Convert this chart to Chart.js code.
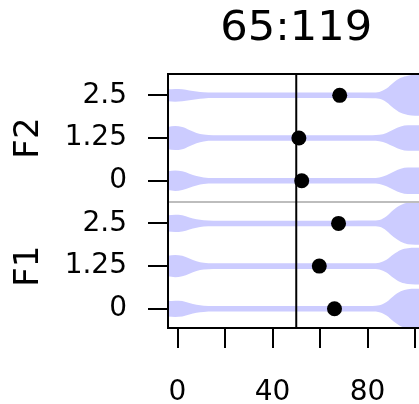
<!DOCTYPE html>
<html>
<head>
<meta charset="utf-8">
<script src="https://cdn.jsdelivr.net/npm/chart.js@4.4.1/dist/chart.umd.min.js"></script>
<style>
  html, body { margin: 0; padding: 0; overflow: hidden; background: #fff; }
  #wrap { width: 443px; height: 404px; }
</style>
</head>
<body>
<div id="wrap"><canvas id="c" width="443" height="404"></canvas></div>
<script>
// Panel title and row / group labels (rows listed bottom to top)
const panelTitle = '65:119';
const rowLabels = ['0', '1.25', '2.5', '0', '1.25', '2.5'];
const groupLabels = ['F1', 'F2'];
const groupCenters = [2, 5];
const separatorAt = 3.5;

// Horizontal axis
const xTicks = [0, 20, 40, 60, 80, 100];
const xTickLabels = ['0', '', '40', '', '80', ''];
const refLine = 50;

// Point estimates per row (bottom to top)
const pointValues = [66.1, 59.7, 67.8, 52.3, 51.1, 68.3];

// Violin density half-widths (row units) sampled along x
const densX = [-4, -1, 2, 5, 8, 11, 15, 30, 50, 70, 82, 85, 88, 91, 94, 97, 100, 104];
const violinF1_0    = [0.18, 0.19, 0.18, 0.135, 0.095, 0.074, 0.065, 0.065, 0.065, 0.065, 0.066, 0.08, 0.16, 0.30, 0.41, 0.46, 0.47, 0.47];
const violinF1_125  = [0.24, 0.26, 0.24, 0.18, 0.115, 0.08, 0.066, 0.065, 0.065, 0.065, 0.066, 0.08, 0.15, 0.28, 0.38, 0.42, 0.43, 0.43];
const violinF1_25   = [0.19, 0.20, 0.19, 0.14, 0.10, 0.075, 0.065, 0.065, 0.065, 0.065, 0.066, 0.08, 0.17, 0.32, 0.43, 0.49, 0.50, 0.50];
const violinF2_0    = [0.22, 0.24, 0.22, 0.165, 0.11, 0.078, 0.066, 0.065, 0.065, 0.065, 0.066, 0.078, 0.13, 0.21, 0.28, 0.31, 0.31, 0.31];
const violinF2_125  = [0.26, 0.28, 0.26, 0.19, 0.12, 0.08, 0.066, 0.065, 0.065, 0.065, 0.066, 0.075, 0.12, 0.20, 0.27, 0.30, 0.30, 0.30];
const violinF2_25   = [0.14, 0.15, 0.14, 0.115, 0.09, 0.072, 0.065, 0.065, 0.065, 0.065, 0.066, 0.08, 0.16, 0.30, 0.41, 0.46, 0.48, 0.48];
const violins = [violinF1_0, violinF1_125, violinF1_25, violinF2_0, violinF2_125, violinF2_25];

const X_MIN = -4, X_MAX = 104, Y_MIN = 0.55, Y_MAX = 6.5;
const violinColor = '#ccccff';

const datasets = [];

// dots on top
datasets.push({
  data: pointValues.map((v, i) => ({ x: v, y: i + 1 })),
  showLine: false,
  pointRadius: 7.5,
  pointBackgroundColor: '#000',
  pointBorderWidth: 0,
  order: 0
});

// reference line
datasets.push({
  data: [{ x: refLine, y: Y_MIN }, { x: refLine, y: Y_MAX }],
  borderColor: '#000',
  borderWidth: 2,
  pointRadius: 0,
  order: 1
});

// group separator
datasets.push({
  data: [{ x: X_MIN, y: separatorAt }, { x: X_MAX, y: separatorAt }],
  borderColor: '#bdbdbd',
  borderWidth: 2,
  pointRadius: 0,
  order: 2
});

// violins: lower edge then upper edge filled to the lower one
violins.forEach((w, i) => {
  const row = i + 1;
  datasets.push({
    data: densX.map((x, j) => ({ x, y: row - w[j] })),
    borderWidth: 0,
    borderColor: 'rgba(0,0,0,0)',
    pointRadius: 0,
    fill: false,
    cubicInterpolationMode: 'monotone',
    order: 3
  });
  datasets.push({
    data: densX.map((x, j) => ({ x, y: row + w[j] })),
    borderWidth: 0,
    borderColor: 'rgba(0,0,0,0)',
    backgroundColor: violinColor,
    pointRadius: 0,
    fill: '-1',
    cubicInterpolationMode: 'monotone',
    order: 3
  });
});

const decor = {
  id: 'decor',
  afterDatasetsDraw(chart) {
    const { ctx, chartArea: a } = chart;
    ctx.save();
    ctx.strokeStyle = '#000';
    ctx.lineWidth = 2;
    ctx.strokeRect(a.left, a.top, a.right - a.left, a.bottom - a.top);
    ctx.restore();
  },
  afterDraw(chart) {
    const { ctx, chartArea: a } = chart;
    const yScale = chart.scales.y;
    ctx.save();
    ctx.fillStyle = '#000';
    // title
    ctx.font = '40px "DejaVu Sans"';
    ctx.textAlign = 'center';
    ctx.textBaseline = 'alphabetic';
    ctx.save();
    ctx.translate((a.left + a.right) / 2, 40);
    ctx.scale(1.08, 1);
    ctx.fillText(panelTitle, 0, 0);
    ctx.restore();
    // group labels
    ctx.font = '34px "DejaVu Sans"';
    ctx.textBaseline = 'middle';
    groupLabels.forEach((g, i) => {
      const y = yScale.getPixelForValue(groupCenters[i]);
      ctx.save();
      ctx.translate(29, y);
      ctx.rotate(-Math.PI / 2);
      ctx.fillText(g, 0, 0);
      ctx.restore();
    });
    ctx.restore();
  }
};

new Chart(document.getElementById('c'), {
  type: 'line',
  data: { datasets },
  plugins: [decor],
  options: {
    responsive: false,
    animation: false,
    layout: { autoPadding: false, padding: { top: 74, left: 0, right: 0, bottom: 0 } },
    plugins: { legend: { display: false }, tooltip: { enabled: false } },
    scales: {
      x: {
        type: 'linear',
        min: X_MIN,
        max: X_MAX,
        afterBuildTicks: (s) => { s.ticks = xTicks.map(v => ({ value: v })); },
        afterFit: (s) => { s.height = 404 - 328; },
        ticks: {
          autoSkip: false,
          maxRotation: 0,
          padding: 28,
          color: '#000',
          font: { family: 'DejaVu Sans', size: 28 },
          callback: (v, i) => xTickLabels[i]
        },
        grid: { drawOnChartArea: false, drawTicks: true, tickLength: 20, color: '#000', lineWidth: 2 },
        border: { display: true, color: '#000', width: 2 }
      },
      y: {
        type: 'linear',
        min: Y_MIN,
        max: Y_MAX,
        afterBuildTicks: (s) => { s.ticks = rowLabels.map((_, i) => ({ value: i + 1 })); },
        afterFit: (s) => { s.width = 168; },
        ticks: {
          autoSkip: false,
          padding: 21,
          color: '#000',
          font: { family: 'DejaVu Sans', size: 28 },
          callback: (v, i) => rowLabels[i]
        },
        grid: { drawOnChartArea: false, drawTicks: true, tickLength: 20, color: '#000', lineWidth: 2 },
        border: { display: true, color: '#000', width: 2 }
      }
    }
  }
});
</script>
</body>
</html>
